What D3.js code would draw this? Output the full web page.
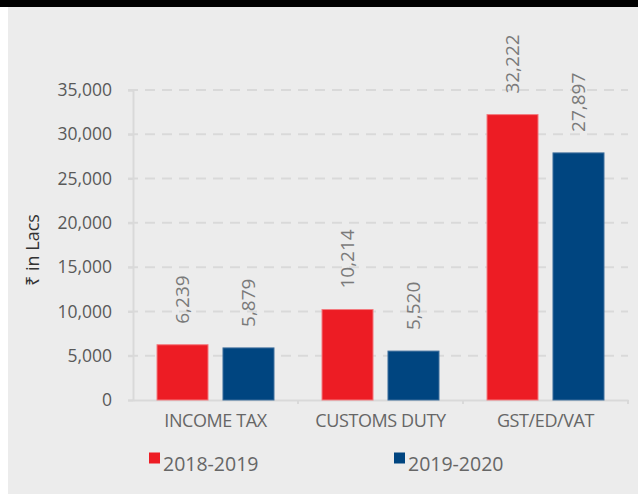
<!DOCTYPE html>
<html><head><meta charset="utf-8">
<script src="https://cdn.jsdelivr.net/npm/d3@7"></script>
<style>
html,body{margin:0;padding:0;background:#fff;}
svg{display:block;}
text{font-family:"Open Sans","Noto Sans",sans-serif;}
</style></head>
<body>
<script>
const categories = ["INCOME TAX", "CUSTOMS DUTY", "GST/ED/VAT"];
const seriesNames = ["2018-2019", "2019-2020"];
const values2018 = [6239, 10214, 32222];
const values2019 = [5879, 5520, 27897];
const yTicks = [0, 5000, 10000, 15000, 20000, 25000, 30000, 35000];
const colors = ["#ed1c24", "#004580"];
const strokes = ["#f37a7f", "#3d6e9c"];

const W = 638, H = 494;
const svg = d3.select("body").append("svg").attr("width", W).attr("height", H);
svg.append("rect").attr("x",0).attr("y",0).attr("width",W).attr("height",H).attr("fill","#fff");
svg.append("rect").attr("x",8).attr("y",7).attr("width",W-8).attr("height",H-7).attr("fill","#ececec");
svg.append("rect").attr("x",0).attr("y",0).attr("width",W).attr("height",7).attr("fill","#000");

const x0 = d3.scaleBand().domain(categories).range([133, 628]).padding(0);
const x1 = d3.scaleBand().domain(seriesNames).range([0, x0.bandwidth()]).paddingInner(0.227).paddingOuter(0.364);
const y = d3.scaleLinear().domain([0, 35000]).range([400, 90]);

// gridlines
svg.append("g").selectAll("line").data(yTicks.filter(d=>d>0)).join("line")
  .attr("x1",128).attr("x2",628).attr("y1",d=>y(d)).attr("y2",d=>y(d))
  .attr("stroke","#d9d9d9").attr("stroke-width",2).attr("stroke-dasharray","10,7");

// y axis
const yAxis = svg.append("g").attr("transform","translate(133,0)")
  .call(d3.axisLeft(y).tickValues(yTicks).tickFormat(d3.format(",")).tickSize(5).tickPadding(16));
yAxis.select(".domain").attr("stroke","#d9d9d9").attr("stroke-width",2);
yAxis.selectAll(".tick line").attr("stroke","#d9d9d9").attr("stroke-width",2);
yAxis.selectAll(".tick text").attr("fill","#595959").attr("font-size",17.5).attr("font-family","Open Sans");

// x axis
const xAxis = svg.append("g").attr("transform","translate(0,400)")
  .call(d3.axisBottom(x0).tickSize(0).tickPadding(14));
xAxis.select(".domain").attr("stroke","#d9d9d9").attr("stroke-width",2);
xAxis.selectAll(".tick text").attr("fill","#666").attr("font-size",18).attr("font-family","Open Sans").attr("letter-spacing",-0.4);
// boundary ticks
svg.append("g").selectAll("line").data(categories).join("line")
  .attr("x1",d=>x0(d)+x0.bandwidth()).attr("x2",d=>x0(d)+x0.bandwidth())
  .attr("y1",400).attr("y2",404).attr("stroke","#d9d9d9").attr("stroke-width",2);

// bars
const data = categories.map((c,i)=>({cat:c, vals:[values2018[i], values2019[i]]}));
const groups = svg.append("g").selectAll("g").data(data).join("g")
  .attr("transform", d=>`translate(${x0(d.cat)},0)`);
groups.selectAll("rect").data(d=>d.vals.map((v,j)=>({s:seriesNames[j], v, j}))).join("rect")
  .attr("x", d=>x1(d.s)).attr("width", x1.bandwidth())
  .attr("y", d=>y(d.v)).attr("height", d=>y(0)-y(d.v))
  .attr("fill", d=>colors[d.j]).attr("stroke", d=>strokes[d.j]).attr("stroke-width",1);
groups.selectAll("text").data(d=>d.vals.map((v,j)=>({s:seriesNames[j], v, j}))).join("text")
  .attr("transform", d=>`translate(${x1(d.s)+x1.bandwidth()/2},${y(d.v)-21}) rotate(-90)`)
  .attr("dy","0.35em").attr("text-anchor","start")
  .attr("fill","#7a7a7a").attr("font-size",19)
  .text(d=>d3.format(",")(d.v));

// y title
svg.append("text").attr("transform","translate(39,250) rotate(-90)")
  .attr("text-anchor","middle").attr("fill","#333").attr("font-size",18)
  .text("₹ in Lacs");

// legend
const legX = [149, 394];
const leg = svg.append("g").selectAll("g").data(seriesNames).join("g")
  .attr("transform",(d,i)=>`translate(${legX[i]},0)`);
leg.append("rect").attr("x",0).attr("y",452.5).attr("width",11).attr("height",11).attr("fill",(d,i)=>colors[i]);
leg.append("text").attr("x",14).attr("y",470.5).attr("fill","#666").attr("font-size",19.5).text(d=>d);
</script>
</body></html>
